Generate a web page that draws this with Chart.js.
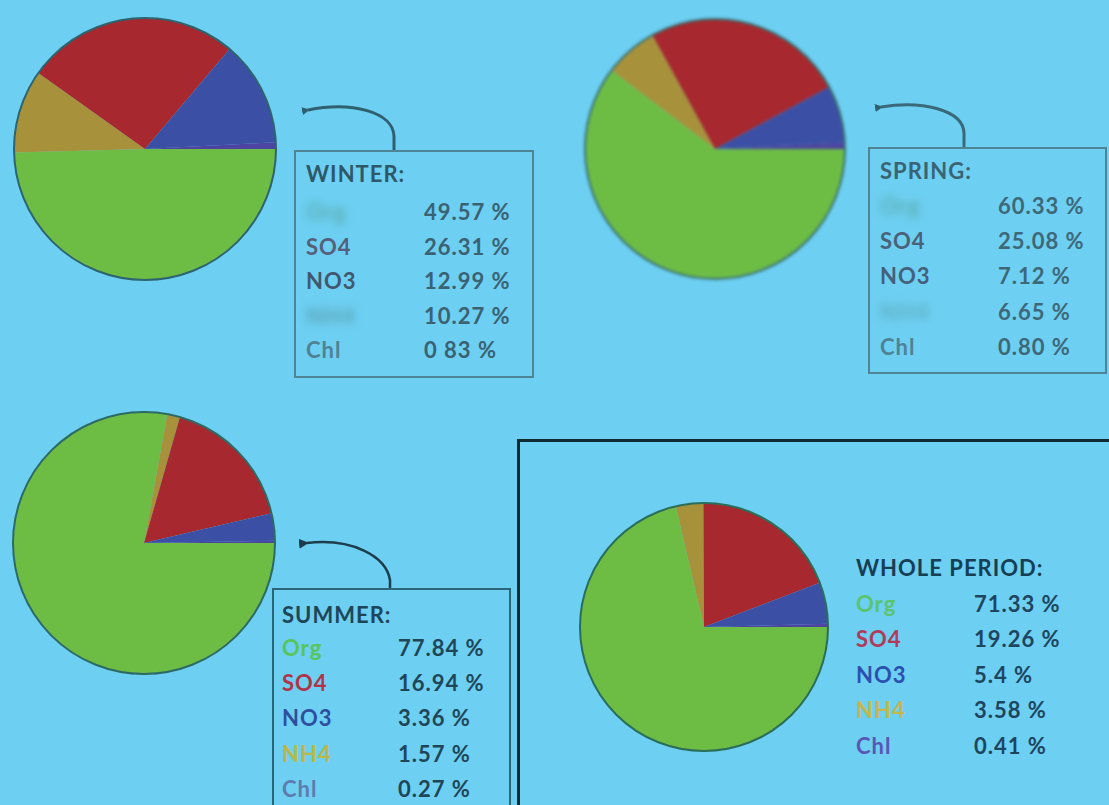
<!DOCTYPE html>
<html>
<head>
<meta charset="utf-8">
<script src="https://cdn.jsdelivr.net/npm/chart.js@4/dist/chart.umd.min.js"></script>
<style>
  html, body { margin: 0; padding: 0; }
  body { width: 1109px; height: 805px; background: #6dcff2; position: relative; overflow: hidden; font-family: Lato, "Open Sans", sans-serif; }
  canvas.pie { position: absolute; }
  .box { position: absolute; box-sizing: border-box; }
  .txt { position: absolute; white-space: nowrap; font-size: 22px; line-height: 28px; letter-spacing: 1px; }
  svg { position: absolute; left: 0; top: 0; }
</style>
</head>
<body>
<div class="box" style="left:517px; top:439px; width:640px; height:420px; border:3px solid #0f2a30;"></div>
<div class="box" style="left:294px; top:150px; width:240px; height:228px; border:2px solid #4f8494;"></div>
<div class="box" style="left:868px; top:147px; width:239px; height:227px; border:2px solid #4f8494;"></div>
<div class="box" style="left:272px; top:588px; width:239px; height:240px; border:2px solid #2b6678;"></div>

<svg width="1109" height="805">
  <defs>
    <marker id="headA" markerWidth="8" markerHeight="8" refX="2" refY="4" orient="auto" markerUnits="userSpaceOnUse">
      <path d="M8,0 L0,4 L8,8 Z" fill="#2f6070"/>
    </marker>
    <marker id="headB" markerWidth="10" markerHeight="10" refX="2" refY="5" orient="auto" markerUnits="userSpaceOnUse">
      <path d="M10,0 L0,5 L10,10 Z" fill="#1d3d4c"/>
    </marker>
  </defs>
  <path d="M394,150 L394,136 C393,112 352,101 308,110" fill="none" stroke="#2f6070" stroke-width="3" marker-end="url(#headA)"/>
  <path d="M964,147 L964,133 C963,110 922,100 881,107" fill="none" stroke="#3a6a7a" stroke-width="3" marker-end="url(#headA)"/>
  <path d="M390,588 L390,580 C386,556 352,538 307,543" fill="none" stroke="#1d3d4c" stroke-width="2.5" marker-end="url(#headB)"/>
</svg>

<canvas id="pieWinter" class="pie"></canvas>
<canvas id="pieSpring" class="pie" style="filter: blur(1.5px);"></canvas>
<canvas id="pieSummer" class="pie"></canvas>
<canvas id="pieWhole" class="pie"></canvas>

<script>
// Aerosol composition shares (%) per season
const components = ['Org', 'SO4', 'NO3', 'NH4', 'Chl'];
const winterShares = [49.57, 26.31, 12.99, 10.27, 0.83];
const springShares = [60.33, 25.08, 7.12, 6.65, 0.80];
const summerShares = [77.84, 16.94, 3.36, 1.57, 0.27];
const wholeShares  = [71.33, 19.26, 5.4, 3.58, 0.41];
const winterValueLabels = ['49.57 %', '26.31 %', '12.99 %', '10.27 %', '0 83 %'];
const springValueLabels = ['60.33 %', '25.08 %', '7.12 %', '6.65 %', '0.80 %'];
const summerValueLabels = ['77.84 %', '16.94 %', '3.36 %', '1.57 %', '0.27 %'];
const wholeValueLabels  = ['71.33 %', '19.26 %', '5.4 %', '3.58 %', '0.41 %'];

// order of slices, clockwise from 3 o'clock
const sliceOrder = ['Org', 'NH4', 'SO4', 'NO3', 'Chl'];
const sliceColors = { Org: '#6dbd45', SO4: '#a7282e', NO3: '#3b4fa4', NH4: '#a8913b', Chl: '#4d44a0' };

// outer rim drawn once around the whole pie
const rimPlugin = {
  id: 'rim',
  afterDatasetsDraw(chart, args, opts) {
    const arc = chart.getDatasetMeta(0).data[0];
    if (!arc) return;
    const ctx = chart.ctx;
    ctx.save();
    ctx.beginPath();
    ctx.arc(arc.x, arc.y, arc.outerRadius, 0, Math.PI * 2);
    ctx.lineWidth = opts.width || 2;
    ctx.strokeStyle = opts.color || '#2f6e6a';
    ctx.stroke();
    ctx.restore();
  }
};

function drawPie(id, shares, cx, cy, r, rimColor) {
  const pad = 3;
  const el = document.getElementById(id);
  const size = 2 * r + 2 * pad;
  el.width = size; el.height = size;
  el.style.left = (cx - r - pad) + 'px';
  el.style.top = (cy - r - pad) + 'px';
  const data = sliceOrder.map(k => shares[components.indexOf(k)]);
  new Chart(el, {
    type: 'pie',
    data: {
      labels: sliceOrder,
      datasets: [{ data, backgroundColor: sliceOrder.map(k => sliceColors[k]), borderWidth: 0 }]
    },
    options: {
      responsive: false,
      devicePixelRatio: 1,
      animation: false,
      rotation: 90,
      events: [],
      layout: { padding: pad },
      plugins: { legend: { display: false }, tooltip: { enabled: false }, rim: { color: rimColor, width: 2 } }
    },
    plugins: [rimPlugin]
  });
}

drawPie('pieWinter', winterShares, 145, 149, 131, '#2d6470');
drawPie('pieSpring', springShares, 715, 149, 130, '#3a7070');
drawPie('pieSummer', summerShares, 144, 543, 131, '#2d6a66');
drawPie('pieWhole',  wholeShares, 704, 627, 124, '#2a6e5a');

function addText(text, x, cy, style) {
  const d = document.createElement('div');
  d.className = 'txt';
  d.textContent = text;
  d.style.left = x + 'px';
  d.style.top = (cy - 14) + 'px';
  Object.assign(d.style, style || {});
  document.body.appendChild(d);
}

function addPanel(title, values, opt) {
  addText(title, opt.x, opt.titleY, { color: opt.titleColor, fontWeight: opt.weight });
  components.forEach((c, i) => {
    const y = opt.rowY + i * opt.step;
    addText(c, opt.x, y, Object.assign({ color: opt.labelColors[i], fontWeight: opt.weight }, opt.labelStyles ? opt.labelStyles[i] : {}));
    addText(values[i], opt.valueX, y, { color: opt.valueColor, fontWeight: opt.weight });
  });
}

const smudge = { filter: 'blur(4px)', opacity: '0.7' };

addPanel('WINTER:', winterValueLabels, {
  x: 306, valueX: 424, titleY: 174, rowY: 212, step: 34.6, weight: '700',
  titleColor: '#2e5868', valueColor: '#3a6272',
  labelColors: ['#4e9a8a', '#56607c', '#40586e', '#4f8f9a', '#4f8294'],
  labelStyles: [smudge, null, null, smudge, null]
});
addPanel('SPRING:', springValueLabels, {
  x: 880, valueX: 998, titleY: 171, rowY: 206, step: 35.2, weight: '700',
  titleColor: '#3a6474', valueColor: '#3d6878',
  labelColors: ['#4f9c8c', '#4a6278', '#44607a', '#58a0a8', '#4f8294'],
  labelStyles: [smudge, null, null, smudge, null]
});
addPanel('SUMMER:', summerValueLabels, {
  x: 282, valueX: 398, titleY: 615, rowY: 648, step: 35.2, weight: '700',
  titleColor: '#1e4658', valueColor: '#1e4658',
  labelColors: ['#58c45c', '#b03448', '#2d4f9e', '#b9b84a', '#5e7cae']
});
addPanel('WHOLE PERIOD:', wholeValueLabels, {
  x: 856, valueX: 974, titleY: 568, rowY: 604, step: 35.4, weight: '700',
  titleColor: '#163e54', valueColor: '#1d4560',
  labelColors: ['#5ac46e', '#b03a5a', '#2a50b0', '#c2b84e', '#5a56b4']
});
</script>
</body>
</html>
